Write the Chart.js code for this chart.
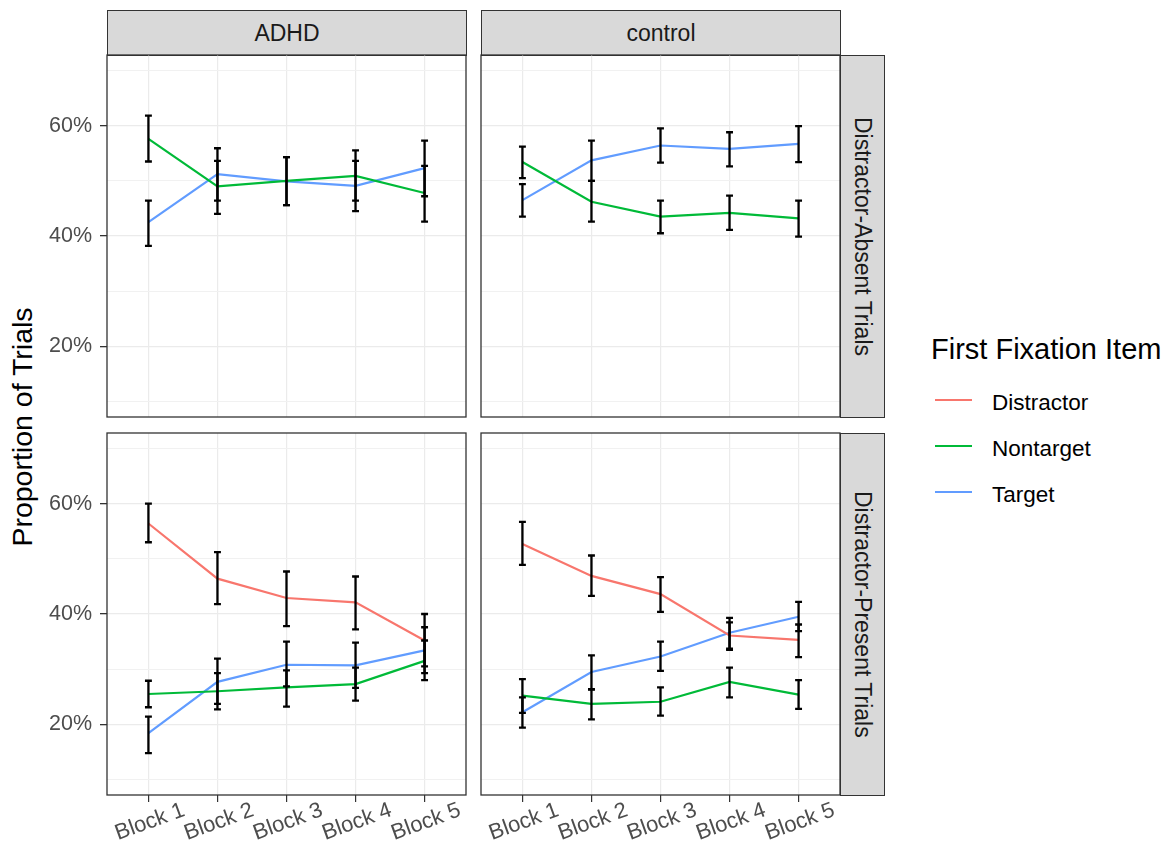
<!DOCTYPE html>
<html><head><meta charset="utf-8">
<script src="https://cdn.jsdelivr.net/npm/chart.js@4.4.1/dist/chart.umd.min.js"></script>
<style>
html,body{margin:0;padding:0;background:#fff;width:1169px;height:843px;overflow:hidden;font-family:"Liberation Sans",Arial,Helvetica,sans-serif;}
canvas.panel{position:absolute;left:0;top:0;pointer-events:none;}
.strip{position:absolute;box-sizing:border-box;background:#d9d9d9;border:1.3px solid #333;color:#1a1a1a;font-size:23px;display:flex;align-items:center;justify-content:center;}
.vstrip{writing-mode:vertical-rl;}
.txt{position:absolute;white-space:nowrap;line-height:1;color:#000;}
.key{position:absolute;height:2px;width:37px;}
</style>
</head><body>
<div class="strip" style="left:107px;top:10px;width:360px;height:46px;">ADHD</div>
<div class="strip" style="left:481px;top:10px;width:360px;height:46px;">control</div>
<div class="strip vstrip" style="left:840px;top:55px;width:45px;height:363px;">Distractor-Absent Trials</div>
<div class="strip vstrip" style="left:840px;top:433px;width:45px;height:363px;">Distractor-Present Trials</div>
<div class="txt" id="ytitle" style="font-size:28.5px;left:22px;top:427px;transform:translate(-50%,-50%) rotate(-90deg);color:#000;">Proportion of Trials</div>
<div class="txt" style="font-size:29px;left:931px;top:335px;">First Fixation Item</div>
<div class="key" style="left:935px;top:399px;background:#F8766D"></div>
<div class="key" style="left:935px;top:445px;background:#00BA38"></div>
<div class="key" style="left:935px;top:491px;background:#619CFF"></div>
<div class="txt" style="font-size:22.5px;left:992px;top:392px;color:#000">Distractor</div>
<div class="txt" style="font-size:22.5px;left:992px;top:438px;color:#000">Nontarget</div>
<div class="txt" style="font-size:22.5px;left:992px;top:484px;color:#000">Target</div>
<canvas class="panel" id="c1" width="1169" height="843"></canvas>
<canvas class="panel" id="c2" width="1169" height="843"></canvas>
<canvas class="panel" id="c3" width="1169" height="843"></canvas>
<canvas class="panel" id="c4" width="1169" height="843"></canvas>
<script>
// ---- data ----
const blocks = ['Block 1','Block 2','Block 3','Block 4','Block 5'];
const yTicks = [10,20,30,40,50,60,70];
const yLabelTicks = [20,40,60];
const seriesNames = ['Distractor','Nontarget','Target'];
const seriesColors = ['#F8766D','#00BA38','#619CFF'];

// ADHD, Distractor-Absent
const adhdAbsNontargetMean = [57.6, 49.0, 50.0, 50.9, 47.8];
const adhdAbsNontargetLo   = [53.5, 44.0, 45.6, 46.4, 42.6];
const adhdAbsNontargetHi   = [61.8, 53.6, 54.3, 55.5, 52.7];
const adhdAbsTargetMean    = [42.5, 51.2, 49.9, 49.1, 52.3];
const adhdAbsTargetLo      = [38.2, 46.4, 45.6, 44.5, 47.2];
const adhdAbsTargetHi      = [46.4, 55.9, 54.3, 53.6, 57.3];

// control, Distractor-Absent
const ctrlAbsNontargetMean = [53.4, 46.2, 43.5, 44.2, 43.2];
const ctrlAbsNontargetLo   = [50.5, 42.6, 40.5, 41.1, 39.9];
const ctrlAbsNontargetHi   = [56.2, 50.0, 46.4, 47.3, 46.4];
const ctrlAbsTargetMean    = [46.5, 53.7, 56.4, 55.8, 56.7];
const ctrlAbsTargetLo      = [43.5, 50.0, 53.3, 52.6, 53.4];
const ctrlAbsTargetHi      = [49.4, 57.3, 59.5, 58.8, 59.9];

// ADHD, Distractor-Present
const adhdPresDistractorMean = [56.4, 46.4, 42.9, 42.1, 35.2];
const adhdPresDistractorLo   = [53.0, 41.8, 37.8, 37.2, 30.5];
const adhdPresDistractorHi   = [60.0, 51.2, 47.7, 46.8, 40.0];
const adhdPresNontargetMean  = [25.5, 26.0, 26.7, 27.3, 31.5];
const adhdPresNontargetLo    = [23.1, 22.7, 23.2, 24.3, 28.0];
const adhdPresNontargetHi    = [27.9, 29.3, 29.8, 30.3, 35.2];
const adhdPresTargetMean     = [18.4, 27.7, 30.8, 30.7, 33.4];
const adhdPresTargetLo       = [14.8, 23.7, 26.9, 26.6, 29.3];
const adhdPresTargetHi       = [21.4, 31.9, 35.0, 34.8, 37.6];

// control, Distractor-Present
const ctrlPresDistractorMean = [52.7, 46.9, 43.6, 36.1, 35.3];
const ctrlPresDistractorLo   = [48.9, 43.3, 40.4, 33.7, 32.2];
const ctrlPresDistractorHi   = [56.7, 50.6, 46.7, 38.5, 38.1];
const ctrlPresNontargetMean  = [25.2, 23.7, 24.1, 27.7, 25.4];
const ctrlPresNontargetLo    = [22.1, 20.9, 21.6, 24.9, 22.8];
const ctrlPresNontargetHi    = [28.2, 26.4, 26.7, 30.3, 28.0];
const ctrlPresTargetMean     = [22.2, 29.5, 32.3, 36.6, 39.5];
const ctrlPresTargetLo       = [19.4, 26.3, 29.7, 33.5, 36.9];
const ctrlPresTargetHi       = [24.9, 32.5, 35.0, 39.3, 42.2];

// ---- rendering ----
const FONT = '"Liberation Sans", Arial, Helvetica, sans-serif';
const W = 1169, H = 843;
const Y_MIN = 7.2, Y_MAX = 72.8;
const X_MIN = 0.4, X_MAX = 5.6;

function ds(idx, mean, lo, hi){
  return {
    label: seriesNames[idx],
    data: mean.map((v,i)=>({x:i+1, y:v})),
    lo: lo, hi: hi,
    borderColor: seriesColors[idx], backgroundColor: seriesColors[idx],
    borderWidth: 2.2, pointRadius: 0, tension: 0, fill: false
  };
}

const framePlugin = {
  id:'frame',
  afterDraw(chart){
    const a = chart.chartArea, c = chart.ctx;
    c.save(); c.strokeStyle = '#333'; c.lineWidth = 1.3;
    c.strokeRect(a.left, a.top, a.right - a.left, a.bottom - a.top);
    c.restore();
  }
};
const errPlugin = {
  id:'errbars',
  afterDatasetsDraw(chart){
    const c = chart.ctx, xs = chart.scales.x, ys = chart.scales.y;
    const half = (xs.getPixelForValue(1.05) - xs.getPixelForValue(1));
    c.save(); c.strokeStyle = '#000'; c.lineWidth = 2.3;
    chart.data.datasets.forEach(d=>{
      d.data.forEach((p,i)=>{
        const x = xs.getPixelForValue(p.x);
        const y1 = ys.getPixelForValue(d.lo[i]), y2 = ys.getPixelForValue(d.hi[i]);
        c.beginPath();
        c.moveTo(x, y1); c.lineTo(x, y2);
        c.moveTo(x-half, y1); c.lineTo(x+half, y1);
        c.moveTo(x-half, y2); c.lineTo(x+half, y2);
        c.stroke();
      });
    });
    c.restore();
  }
};
const xLabelPlugin = {
  id:'xlabels',
  afterDraw(chart, args, opts){
    if(!opts.show) return;
    const c = chart.ctx, xs = chart.scales.x, a = chart.chartArea;
    c.save();
    c.font = '22px ' + FONT; c.fillStyle = '#4d4d4d';
    c.textAlign = 'center'; c.textBaseline = 'middle';
    blocks.forEach((b,i)=>{
      const x = xs.getPixelForValue(i+1);
      c.save();
      c.translate(x + 1.5, a.bottom + 27);
      c.rotate(-20*Math.PI/180);
      c.fillText(b, 0, 0);
      c.restore();
    });
    c.restore();
  }
};

function makePanel(id, area, showY, showX, datasets){
  const yW = showY ? 80 : 0;
  const xH = showX ? 48 : 0;
  new Chart(document.getElementById(id), {
    type:'line',
    data:{datasets},
    options:{
      responsive:false, animation:false, devicePixelRatio:1, events:[],
      layout:{padding:{left: area.left - yW, top: area.top, right: W - area.right, bottom: H - area.bottom - xH}},
      plugins:{legend:{display:false}, tooltip:{enabled:false}, xlabels:{show:showX}},
      scales:{
        x:{type:'linear', min:X_MIN, max:X_MAX,
          afterBuildTicks: s => { s.ticks = blocks.map((b,i)=>({value:i+1})); },
          afterFit: s => { s.height = xH; },
          ticks:{display:false},
          border:{display:false},
          grid:{color:'#ebebeb', lineWidth:1.2, drawTicks:showX, tickLength:7, tickColor:'#333'}
        },
        y:{type:'linear', min:Y_MIN, max:Y_MAX,
          afterBuildTicks: s => { s.ticks = yTicks.map(v=>({value:v})); },
          afterFit: s => { s.width = yW; },
          border:{display:false},
          ticks:{display:showY, autoSkip:false, padding:8, color:'#4d4d4d',
            font:{family:FONT, size:21.5},
            callback: v => yLabelTicks.includes(v) ? v + '%' : ''},
          grid:{
            color: ctx => (ctx.tick && yLabelTicks.includes(ctx.tick.value)) ? '#ebebeb' : '#f1f1f1',
            lineWidth: ctx => (ctx.tick && yLabelTicks.includes(ctx.tick.value)) ? 1.3 : 1,
            drawTicks: showY, tickLength:7,
            tickColor: ctx => (ctx.tick && yLabelTicks.includes(ctx.tick.value)) ? '#333' : 'rgba(0,0,0,0)'
          }
        }
      }
    },
    plugins:[errPlugin, framePlugin, xLabelPlugin]
  });
}

makePanel('c1', {left:107, right:466, top:55, bottom:417}, true, false, [
  ds(1, adhdAbsNontargetMean, adhdAbsNontargetLo, adhdAbsNontargetHi),
  ds(2, adhdAbsTargetMean, adhdAbsTargetLo, adhdAbsTargetHi)
]);
makePanel('c2', {left:481, right:840, top:55, bottom:417}, false, false, [
  ds(1, ctrlAbsNontargetMean, ctrlAbsNontargetLo, ctrlAbsNontargetHi),
  ds(2, ctrlAbsTargetMean, ctrlAbsTargetLo, ctrlAbsTargetHi)
]);
makePanel('c3', {left:107, right:466, top:433, bottom:795}, true, true, [
  ds(0, adhdPresDistractorMean, adhdPresDistractorLo, adhdPresDistractorHi),
  ds(1, adhdPresNontargetMean, adhdPresNontargetLo, adhdPresNontargetHi),
  ds(2, adhdPresTargetMean, adhdPresTargetLo, adhdPresTargetHi)
]);
makePanel('c4', {left:481, right:840, top:433, bottom:795}, false, true, [
  ds(0, ctrlPresDistractorMean, ctrlPresDistractorLo, ctrlPresDistractorHi),
  ds(1, ctrlPresNontargetMean, ctrlPresNontargetLo, ctrlPresNontargetHi),
  ds(2, ctrlPresTargetMean, ctrlPresTargetLo, ctrlPresTargetHi)
]);
</script>
</body></html>
